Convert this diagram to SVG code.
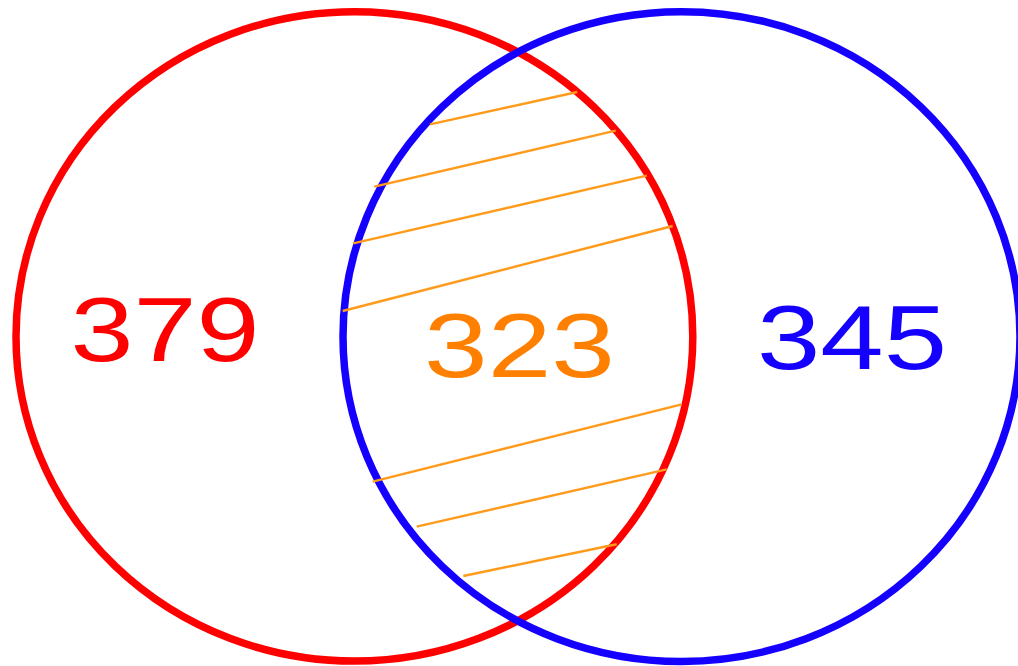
<svg xmlns="http://www.w3.org/2000/svg" width="1018" height="666" viewBox="0 0 1018 666">
<style>
.set{fill:none;stroke-width:7.5}
.hatch{stroke:#ff9a1a;stroke-width:2.4;fill:none}
.num{font-family:"Liberation Sans",Arial,sans-serif;font-size:90px}
</style>
<rect width="1018" height="666" fill="#ffffff"/>
<g id="setA">
<ellipse class="set" cx="354.4" cy="336.4" rx="338.4" ry="324.7" stroke="#ff0000"/>
<text class="num" x="70.5" y="361" fill="#ff0000" textLength="189" lengthAdjust="spacingAndGlyphs">379</text>
</g>
<g id="setB">
<ellipse class="set" cx="681.5" cy="336.6" rx="338.5" ry="324.9" stroke="#1500ff"/>
<text class="num" x="757" y="369" fill="#1500ff" textLength="190" lengthAdjust="spacingAndGlyphs">345</text>
</g>
<g id="hatching">
<line class="hatch" x1="430" y1="124.3" x2="577.3" y2="92"/>
<line class="hatch" x1="374.3" y1="186.7" x2="615.7" y2="130.7"/>
<line class="hatch" x1="353.3" y1="243.3" x2="646.7" y2="175.7"/>
<line class="hatch" x1="342.7" y1="311" x2="672.7" y2="226"/>
<line class="hatch" x1="372.7" y1="481.7" x2="681.7" y2="404.3"/>
<line class="hatch" x1="416.7" y1="526.7" x2="666.7" y2="469.3"/>
<line class="hatch" x1="463.3" y1="576" x2="616.7" y2="544.3"/>
</g>
<g id="intersection">
<text class="num" x="424" y="377" fill="#ff8000" textLength="191" lengthAdjust="spacingAndGlyphs">323</text>
</g>
</svg>
